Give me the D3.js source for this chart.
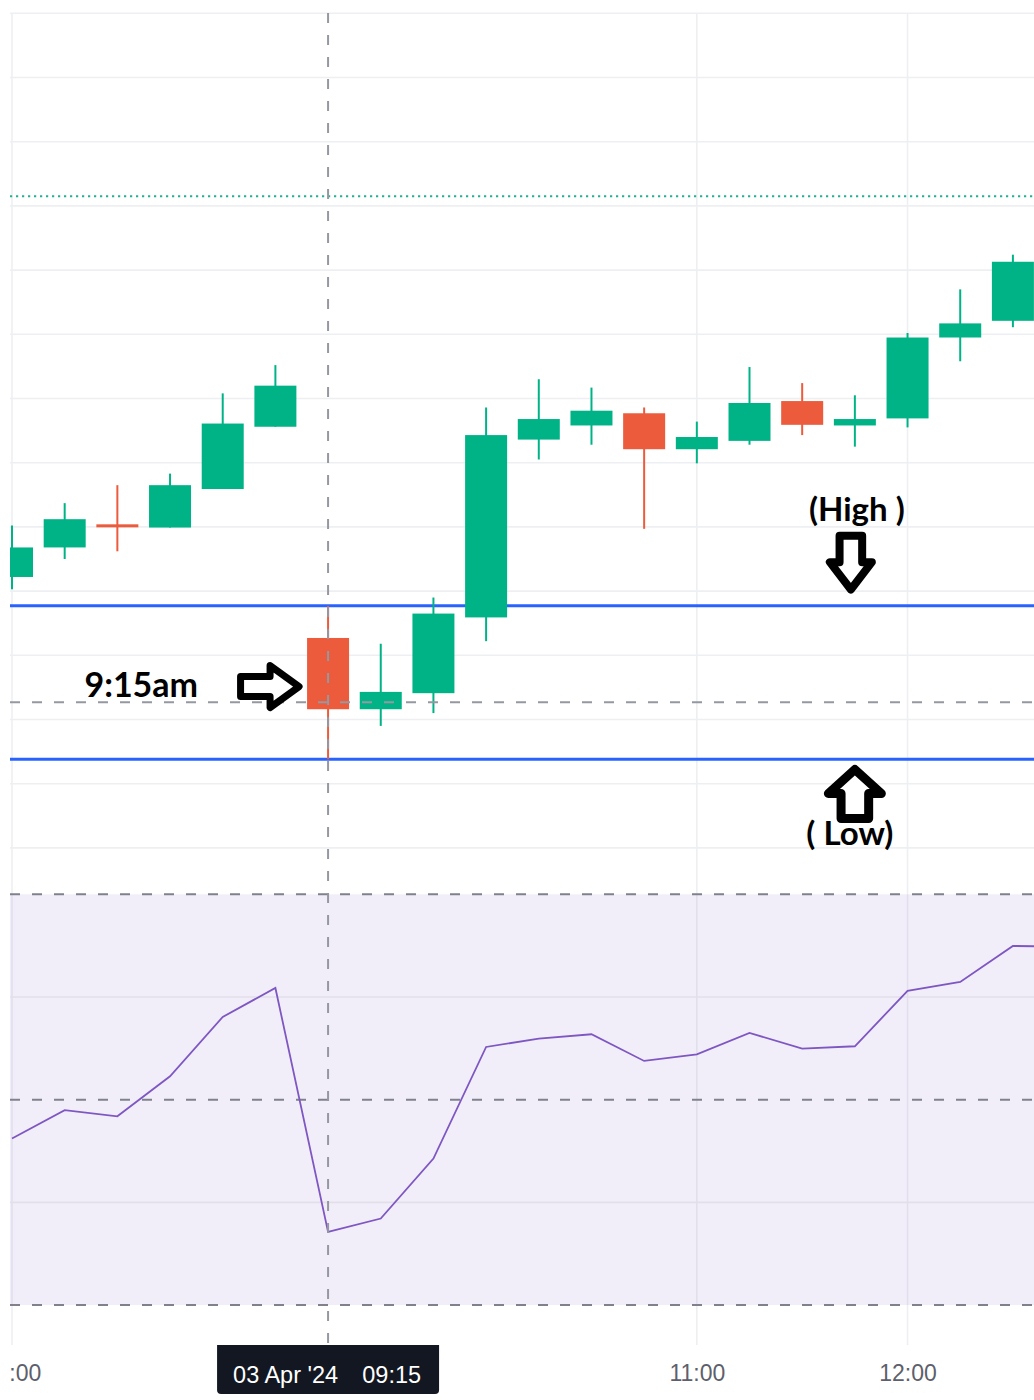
<!DOCTYPE html>
<html>
<head>
<meta charset="utf-8">
<script src="https://cdn.jsdelivr.net/npm/d3@7"></script>
<style>
  body { margin: 0; background: #fff; }
  svg { display: block; }
</style>
</head>
<body>
<div id="app"></div>
<script>
// 15 min candles, 02 Apr afternoon then 03 Apr morning
const times  = ["14:00","14:15","14:30","14:45","15:00","15:15","09:15","09:30","09:45","10:00",
                "10:15","10:30","10:45","11:00","11:15","11:30","11:45","12:00","12:15","12:30","12:45"];
const opens  = [1051.22,1051.68,1052.04,1051.99,1052.59,1053.56,1050.27,1049.16,1049.41,1050.59,
                1053.36,1053.58,1053.77,1053.21,1053.34,1053.96,1053.58,1053.69,1054.95,1055.21];
const highs  = [1052.02,1052.37,1052.65,1052.83,1054.08,1054.52,1050.77,1050.18,1050.90,1053.86,
                1054.30,1054.17,1053.86,1053.64,1054.49,1054.24,1054.05,1055.02,1055.70,1056.24];
const lows   = [1051.03,1051.50,1051.62,1051.99,1052.59,1053.56,1048.38,1048.90,1049.10,1050.22,
                1053.05,1053.28,1051.97,1052.99,1053.28,1053.43,1053.25,1053.55,1054.58,1055.11];
const closes = [1051.68,1052.12,1052.01,1052.65,1053.61,1054.20,1049.16,1049.43,1050.65,1053.43,
                1053.68,1053.81,1053.21,1053.40,1053.93,1053.59,1053.68,1054.95,1055.17,1056.13];
const rsi    = [46.21,48.97,48.38,52.28,58.05,60.88,37.12,38.42,44.26,55.13,
                55.95,56.37,53.77,54.42,56.50,54.97,55.20,60.59,61.46,64.97,64.90];

const axisLabels = ["14:00", "11:00", "12:00"];
const priceGrid = [1047,1048,1049,1050,1051,1052,1053,1054,1055,1056,1057,1058,1059,1060];
const rsiGrid = [60, 40];
const rsiBands = [70, 50, 30];
const lastPrice = 1057.15;
const crossIndex = 6;          // 03 Apr 09:15 candle
const crossPrice = 1049.27;
const crossLabel = ["03 Apr '24", "09:15"];

const width = 1034, height = 1400;
const plotLeft = 10, plotRight = 1034, plotTop = 13, axisTop = 1345;
const upColor = "#00b386", downColor = "#eb5b3c";

const x = d3.scaleLinear().domain([0, 19]).range([12, 1012.9]);
const y = d3.scaleLinear().domain([1060, 1047]).range([13.3, 847.9]);
const yRsi = d3.scaleLinear().domain([70, 30]).range([894.3, 1305]);

const candles = opens.map((o, i) => ({i, o, h: highs[i], l: lows[i], c: closes[i]}));

const svg = d3.select("#app").append("svg")
    .attr("width", width)
    .attr("height", height)
    .style("font-family", "'Liberation Sans', Arial, sans-serif");

svg.append("defs").append("clipPath").attr("id", "plot-clip")
  .append("rect").attr("x", plotLeft).attr("y", 0).attr("width", plotRight - plotLeft).attr("height", height);

const g = svg.append("g").attr("clip-path", "url(#plot-clip)");

// horizontal grid (price pane)
g.append("g").selectAll("line").data(priceGrid).join("line")
    .attr("x1", plotLeft).attr("x2", plotRight)
    .attr("y1", d => y(d)).attr("y2", d => y(d))
    .attr("stroke", "#eeeff2").attr("stroke-width", 1.6);

// vertical grid at time ticks
const tickIdx = axisLabels.map(t => times.indexOf(t));
g.append("g").selectAll("line").data(tickIdx).join("line")
    .attr("x1", d => x(d)).attr("x2", d => x(d))
    .attr("y1", plotTop).attr("y2", axisTop)
    .attr("stroke", "#eeeff2").attr("stroke-width", 1.6);

// RSI pane
g.append("rect")
    .attr("x", plotLeft).attr("width", plotRight - plotLeft)
    .attr("y", yRsi(70)).attr("height", yRsi(30) - yRsi(70))
    .attr("fill", "rgba(126,87,194,0.1)");
g.append("g").selectAll("line").data(rsiGrid).join("line")
    .attr("x1", plotLeft).attr("x2", plotRight)
    .attr("y1", d => yRsi(d)).attr("y2", d => yRsi(d))
    .attr("stroke", "#e2dfea").attr("stroke-width", 1.6);
g.append("g").selectAll("line").data(rsiBands).join("line")
    .attr("x1", plotLeft).attr("x2", plotRight)
    .attr("y1", d => yRsi(d)).attr("y2", d => yRsi(d))
    .attr("stroke", "#7f828c").attr("stroke-width", 2)
    .attr("stroke-dasharray", "10 12");
g.append("path")
    .datum(rsi)
    .attr("fill", "none")
    .attr("stroke", "#7e57c2")
    .attr("stroke-width", 1.8)
    .attr("d", d3.line().x((d, i) => x(i)).y(d => yRsi(d)));

// last price dotted line
g.append("line")
    .attr("x1", plotLeft).attr("x2", plotRight)
    .attr("y1", y(lastPrice)).attr("y2", y(lastPrice))
    .attr("stroke", "#22b193").attr("stroke-width", 2.2)
    .attr("stroke-dasharray", "2.2 3.8");

// high / low of the 09:15 candle
const c915 = candles[crossIndex];
g.append("g").selectAll("line").data([c915.h, c915.l]).join("line")
    .attr("x1", plotLeft).attr("x2", plotRight)
    .attr("y1", d => y(d)).attr("y2", d => y(d))
    .attr("stroke", "#2962ff").attr("stroke-width", 3);

// candles
const cg = g.append("g").selectAll("g").data(candles).join("g");
cg.append("line")
    .attr("x1", d => x(d.i)).attr("x2", d => x(d.i))
    .attr("y1", d => y(d.h)).attr("y2", d => y(d.l))
    .attr("stroke", d => d.c >= d.o ? upColor : downColor)
    .attr("stroke-width", 2);
cg.append("rect")
    .attr("x", d => x(d.i) - 21).attr("width", 42)
    .attr("y", d => y(Math.max(d.o, d.c)))
    .attr("height", d => Math.max(3, Math.abs(y(d.o) - y(d.c))))
    .attr("fill", d => d.c >= d.o ? upColor : downColor);

// crosshair
const cx = x(crossIndex), cy = y(crossPrice);
g.append("line")
    .attr("x1", cx).attr("x2", cx).attr("y1", plotTop).attr("y2", axisTop)
    .attr("stroke", "#9598a1").attr("stroke-width", 2).attr("stroke-dasharray", "10 12");
g.append("line")
    .attr("x1", plotLeft).attr("x2", plotRight).attr("y1", cy).attr("y2", cy)
    .attr("stroke", "#9598a1").attr("stroke-width", 2).attr("stroke-dasharray", "10 12");

// annotations
const ann = g.append("g").attr("font-family", "Lato, 'Open Sans', sans-serif").attr("font-weight", 700);
const arrowStyle = (sel, w) => sel.attr("fill", "#fff").attr("stroke", "#000")
    .attr("stroke-width", w).attr("stroke-linejoin", "round");

ann.append("text")
    .attr("x", cx - 130).attr("y", cy - 5.6)
    .attr("text-anchor", "end").attr("font-size", 34).attr("fill", "#000")
    .text("9:15am");
{
  const tx = cx - 25, ty = cy - 15.6;
  ann.append("path").call(arrowStyle, 7).attr("d",
    `M${tx-62.5},${ty-10} L${tx-33},${ty-10} L${tx-33},${ty-21} L${tx-4},${ty}
     L${tx-33},${ty+21} L${tx-33},${ty+10} L${tx-62.5},${ty+10} Z`);
}

const hx = x(16);
ann.append("text")
    .attr("x", hx + 2).attr("y", y(c915.h) - 84.5)
    .attr("text-anchor", "middle").attr("font-size", 33).attr("fill", "#000")
    .text("(High )");
{
  const ax = hx - 4, ay = y(c915.h) - 12.4;
  ann.append("path").call(arrowStyle, 8).attr("d",
    `M${ax-11.3},${ay-57.6} L${ax+11.3},${ay-57.6} L${ax+11.3},${ay-31.3} L${ax+21},${ay-31.3} L${ax},${ay-4}
     L${ax-21},${ay-31.3} L${ax-11.3},${ay-31.3} Z`);
}

ann.append("text")
    .attr("x", hx - 5).attr("y", y(c915.l) + 85.7)
    .attr("text-anchor", "middle").attr("font-size", 33).attr("fill", "#000")
    .text("( Low)");
{
  const ax = hx, ay = y(c915.l) + 5.7;
  ann.append("path").call(arrowStyle, 9).attr("d",
    `M${ax-13.8},${ay+53.5} L${ax+13.8},${ay+53.5} L${ax+13.8},${ay+28.5} L${ax+26.5},${ay+28.5} L${ax},${ay+4.5}
     L${ax-26.5},${ay+28.5} L${ax-13.8},${ay+28.5} Z`);
}

// time axis
const xAxis = svg.append("g")
    .attr("transform", `translate(0,${1365})`)
    .call(d3.axisBottom(x).tickValues(tickIdx).tickFormat(i => times[i]).tickSize(0).tickPadding(0));
xAxis.select(".domain").remove();
xAxis.selectAll("text")
    .attr("font-family", "'Liberation Sans', Arial, sans-serif")
    .attr("font-size", 23).attr("fill", "#5d606b");
// a label hanging over the left edge keeps only the part still inside the pane
xAxis.selectAll(".tick").each(function (d) {
  const t = d3.select(this).select("text");
  const node = t.node();
  const full = t.text();
  const start = x(d) - node.getComputedTextLength() / 2;
  if (start >= plotLeft) return;
  let k = 0;
  while (k < full.length && start + node.getSubStringLength(0, k) < plotLeft - 3) k++;
  const startX = start + node.getSubStringLength(0, k);
  t.text(full.slice(k)).attr("text-anchor", "start").attr("x", startX - x(d));
});

// crosshair time label
const boxW = 222, boxH = 49, bx = cx - boxW / 2, by = axisTop;
svg.append("path")
    .attr("d", `M${bx},${by} H${bx+boxW} V${by+boxH-4} Q${bx+boxW},${by+boxH} ${bx+boxW-4},${by+boxH}
               H${bx+4} Q${bx},${by+boxH} ${bx},${by+boxH-4} Z`)
    .attr("fill", "#131722");
svg.append("text")
    .attr("x", bx + 16).attr("y", 1383)
    .attr("font-size", 23.5).attr("fill", "#fff")
    .text(crossLabel[0]);
svg.append("text")
    .attr("x", bx + boxW - 18).attr("y", 1383)
    .attr("text-anchor", "end")
    .attr("font-size", 23.5).attr("fill", "#fff")
    .text(crossLabel[1]);
</script>
</body>
</html>
